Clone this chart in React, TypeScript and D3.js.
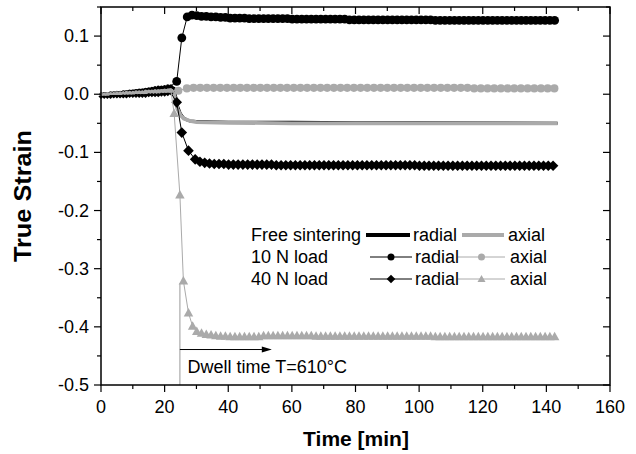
import React from "react";
import * as d3 from "d3";

// ---------- data ----------
const xTicks = [0, 20, 40, 60, 80, 100, 120, 140, 160];
const yTicks = [-0.5, -0.4, -0.3, -0.2, -0.1, 0.0, 0.1];

// pre-dwell samples, t = 0..22 min every 1 min
const preStart = 0;
const preStep = 1;
const radial10Pre = [0.000, 0.001, 0.001, 0.002, 0.002, 0.003, 0.003, 0.004, 0.004, 0.005, 0.005, 0.006, 0.007, 0.007, 0.008, 0.009, 0.010, 0.011, 0.012, 0.012, 0.013, 0.014, 0.014];
const radial40Pre = [-0.004, -0.004, -0.004, -0.004, -0.003, -0.003, -0.003, -0.003, -0.003, -0.002, -0.002, -0.002, -0.002, -0.002, -0.002, -0.001, -0.001, -0.001, -0.001, 0.000, 0.000, 0.001, 0.002];
const axial10Pre = [0.000, 0.000, 0.001, 0.001, 0.001, 0.002, 0.002, 0.002, 0.003, 0.003, 0.003, 0.004, 0.004, 0.004, 0.005, 0.005, 0.005, 0.006, 0.006, 0.006, 0.007, 0.007, 0.007];
const axial40Pre = [0.000, 0.000, 0.000, 0.001, 0.001, 0.001, 0.001, 0.002, 0.002, 0.002, 0.002, 0.003, 0.003, 0.003, 0.003, 0.004, 0.004, 0.004, 0.004, 0.005, 0.005, 0.005, 0.005];

// transition points [t, strain]
const radial10Trans = [[23.8, 0.022], [25.4, 0.097], [27.1, 0.133], [28.6, 0.136]];
const radial40Trans = [[23.8, -0.014], [25.4, -0.066], [27.5, -0.097], [29.6, -0.112]];
const axial10Trans = [[24.3, 0.006]];
const axial40Trans = [[23.0, -0.033], [24.8, -0.173], [25.9, -0.321], [27.5, -0.376], [28.8, -0.399], [30.1, -0.408]];

// dwell samples
const radial10Start = 30.1;
const radial10Step = 1.5;
const radial10Dwell = [
  0.135, 0.134, 0.134, 0.133, 0.133, 0.132, 0.132, 0.131, 0.131, 0.131,
  0.131, 0.130, 0.130, 0.130, 0.130, 0.130, 0.130, 0.130, 0.130, 0.130,
  0.129, 0.129, 0.129, 0.129, 0.129, 0.129, 0.129, 0.129, 0.129, 0.129,
  0.129, 0.129, 0.128, 0.128, 0.128, 0.128, 0.128, 0.128, 0.128, 0.128,
  0.128, 0.128, 0.128, 0.128, 0.128, 0.128, 0.128, 0.128, 0.128, 0.128,
  0.127, 0.127, 0.127, 0.127, 0.127, 0.127, 0.127, 0.127, 0.127, 0.127,
  0.127, 0.127, 0.127, 0.127, 0.127, 0.127, 0.127, 0.127, 0.127, 0.127,
  0.127, 0.127, 0.127, 0.127, 0.127, 0.127,
];
const radial40Start = 31.1;
const radial40Step = 1.5;
const radial40Dwell = [
  -0.116, -0.118, -0.119, -0.120, -0.120, -0.120, -0.121, -0.121, -0.121, -0.121,
  -0.121, -0.121, -0.121, -0.121, -0.121, -0.121, -0.122, -0.122, -0.122, -0.122,
  -0.122, -0.122, -0.122, -0.122, -0.122, -0.122, -0.122, -0.122, -0.122, -0.122,
  -0.122, -0.122, -0.122, -0.122, -0.122, -0.122, -0.122, -0.122, -0.122, -0.122,
  -0.122, -0.122, -0.122, -0.122, -0.122, -0.122, -0.123, -0.123, -0.123, -0.123,
  -0.123, -0.123, -0.123, -0.123, -0.123, -0.123, -0.123, -0.123, -0.123, -0.123,
  -0.123, -0.123, -0.123, -0.123, -0.123, -0.123, -0.123, -0.123, -0.123, -0.123,
  -0.123, -0.123, -0.123, -0.123, -0.123,
];
const axial10Start = 27.0;
const axial10Step = 2.1;
const axial10Dwell = [
  0.010, 0.011, 0.011, 0.011, 0.011, 0.011, 0.011, 0.011, 0.011, 0.011,
  0.011, 0.011, 0.011, 0.011, 0.011, 0.011, 0.011, 0.011, 0.011, 0.011,
  0.011, 0.011, 0.011, 0.011, 0.011, 0.011, 0.011, 0.011, 0.011, 0.011,
  0.011, 0.011, 0.011, 0.011, 0.011, 0.011, 0.011, 0.011, 0.011, 0.011,
  0.011, 0.011, 0.011, 0.010, 0.010, 0.010, 0.010, 0.010, 0.010, 0.010,
  0.010, 0.010, 0.010, 0.010, 0.010, 0.010,
];
const axial40Start = 31.6;
const axial40Step = 1.5;
const axial40Dwell = [
  -0.411, -0.413, -0.414, -0.415, -0.416, -0.416, -0.417, -0.417, -0.417, -0.417,
  -0.417, -0.417, -0.417, -0.415, -0.415, -0.415, -0.415, -0.415, -0.415, -0.415,
  -0.415, -0.415, -0.415, -0.415, -0.416, -0.416, -0.416, -0.416, -0.416, -0.416,
  -0.416, -0.416, -0.416, -0.416, -0.416, -0.416, -0.416, -0.416, -0.416, -0.416,
  -0.416, -0.416, -0.416, -0.416, -0.416, -0.416, -0.416, -0.416, -0.416, -0.417,
  -0.417, -0.417, -0.417, -0.417, -0.417, -0.417, -0.417, -0.417, -0.417, -0.417,
  -0.417, -0.417, -0.417, -0.417, -0.417, -0.417, -0.417, -0.417, -0.417, -0.417,
  -0.417, -0.417, -0.417, -0.417, -0.417,
];

// free sintering curves [t, strain]
const freeRadial = [[0, 0.000], [5, 0.002], [10, 0.005], [15, 0.008], [20, 0.011], [22, 0.013], [23, 0.010], [24, -0.020], [25, -0.034], [26, -0.041], [27, -0.044], [28, -0.046], [30, -0.047], [40, -0.048], [60, -0.048], [80, -0.049], [100, -0.049], [143.5, -0.050]];
const freeAxial = [[0, 0.000], [10, 0.002], [20, 0.005], [22, 0.006], [23, 0.000], [24, -0.025], [25, -0.036], [26, -0.042], [28, -0.046], [30, -0.048], [40, -0.049], [60, -0.050], [100, -0.050], [143.5, -0.050]];

// annotation
const dwellStart = 24.8;
const dwellArrowEnd = 53.7;
const dwellArrowY = -0.439;
const dwellLineTop = -0.325;

// ---------- layout ----------
const W = 636, H = 454;
const L = 101, R = 610, T = 7, B = 385;
const BLACK = "#000";
const GRAY = "#aaaaaa";
const FONT = "Liberation Sans, Arial, sans-serif";

const x = d3.scaleLinear().domain([0, 160]).range([L, R]);
const y = d3.scaleLinear().domain([-0.5, 0.15]).range([B, T]);

type Pt = [number, number];
const build = (pre: number[], trans: number[][], start: number, step: number, dwell: number[]) => {
  const p: Pt[] = pre.map((v, i) => [preStart + i * preStep, v]);
  const t: Pt[] = trans.map((d) => [d[0], d[1]]);
  const w: Pt[] = dwell.map((v, i) => [start + i * step, v]);
  return { pre: p, main: [...t, ...w], all: [...p, ...t, ...w] };
};

const series = [
  { d: build(radial10Pre, radial10Trans, radial10Start, radial10Step, radial10Dwell), color: BLACK, sym: "circle", s: 8.8 },
  { d: build(axial10Pre, axial10Trans, axial10Start, axial10Step, axial10Dwell), color: GRAY, sym: "circle", s: 8.2 },
  { d: build(radial40Pre, radial40Trans, radial40Start, radial40Step, radial40Dwell), color: BLACK, sym: "diamond", s: 9 },
  { d: build(axial40Pre, axial40Trans, axial40Start, axial40Step, axial40Dwell), color: GRAY, sym: "triangle", s: 8.5 },
];

const line = d3.line<Pt>().x((d) => x(d[0])).y((d) => y(d[1]));
const fmt = (v: number) => v.toFixed(1);

function Marker({ sym, cx, cy, s, color }: { sym: string; cx: number; cy: number; s: number; color: string }) {
  if (sym === "circle") return <circle cx={cx} cy={cy} r={s / 2} fill={color} />;
  if (sym === "diamond") {
    const h = s / 2 + 0.8;
    return <path d={`M${cx},${cy - h}L${cx + h},${cy}L${cx},${cy + h}L${cx - h},${cy}Z`} fill={color} />;
  }
  const hw = s / 2 + 0.5;
  return (
    <path d={`M${cx},${cy - s * 0.58}L${cx + hw},${cy + s * 0.42}L${cx - hw},${cy + s * 0.42}Z`} fill={color} />
  );
}

export default function App() {
  const xMinor = d3.range(0, 161, 10);
  const yMinor = d3.range(-0.5, 0.151, 0.05).map((v) => Math.round(v * 1000) / 1000);
  const isMajorX = (v: number) => v % 20 === 0;
  const isMajorY = (v: number) => Math.abs(Math.round(v * 10) - v * 10) < 1e-6;

  const legendRows = [
    { label: "Free sintering", cy: 235, kind: "free" },
    { label: "10 N load", cy: 257, kind: "circle" },
    { label: "40 N load", cy: 279, kind: "diamond" },
  ];

  return (
    <div style={{ position: "absolute", left: 0, top: 0 }}>
      <svg width={W} height={H} style={{ display: "block", background: "#fff" }} fontFamily={FONT}>
        <rect x={0} y={0} width={W} height={H} fill="#fff" />

        {/* free sintering thick lines */}
        <path d={line(freeRadial as Pt[]) || ""} fill="none" stroke={BLACK} strokeWidth={3} />
        <path d={line(freeAxial as Pt[]) || ""} fill="none" stroke={GRAY} strokeWidth={3.8} />

        {/* annotation vertical line */}
        <line x1={x(dwellStart)} x2={x(dwellStart)} y1={y(dwellLineTop)} y2={y(-0.5)} stroke={GRAY} strokeWidth={1.2} />

        {/* marker series */}
        {series.map((s, i) => (
          <g key={i}>
            <path d={line(s.d.all) || ""} fill="none" stroke={s.color} strokeWidth={1} />
            {s.d.pre.map((p, j) => (
              <Marker key={"p" + j} sym={s.sym} cx={x(p[0])} cy={y(p[1])} s={3.5} color={s.color} />
            ))}
            {s.d.main.map((p, j) => (
              <Marker key={"m" + j} sym={s.sym} cx={x(p[0])} cy={y(p[1])} s={s.s} color={s.color} />
            ))}
          </g>
        ))}

        {/* dwell arrow */}
        <line x1={x(dwellStart)} x2={x(dwellArrowEnd) - 8} y1={y(dwellArrowY)} y2={y(dwellArrowY)} stroke={BLACK} strokeWidth={1} />
        <path
          d={`M${x(dwellArrowEnd)},${y(dwellArrowY)}L${x(dwellArrowEnd) - 10},${y(dwellArrowY) - 3}L${x(dwellArrowEnd) - 10},${y(dwellArrowY) + 3}Z`}
          fill={BLACK}
        />
        <text x={x(27.2)} y={373} fontSize={18} fill={BLACK}>
          Dwell time T=610°C
        </text>

        {/* legend */}
        {legendRows.map((r, i) => (
          <g key={i}>
            <text x={251} y={r.cy + 6} fontSize={18} fill={BLACK}>
              {r.label}
            </text>
            {r.kind === "free" ? (
              <>
                <line x1={366} x2={410} y1={r.cy} y2={r.cy} stroke={BLACK} strokeWidth={3.8} />
                <line x1={462} x2={504} y1={r.cy} y2={r.cy} stroke={GRAY} strokeWidth={3.8} />
              </>
            ) : (
              <>
                <line x1={370} x2={412} y1={r.cy} y2={r.cy} stroke={BLACK} strokeWidth={1} />
                <Marker sym={r.kind} cx={391} cy={r.cy} s={7} color={BLACK} />
                <line x1={458} x2={505} y1={r.cy} y2={r.cy} stroke={GRAY} strokeWidth={1} />
                <Marker sym={r.kind === "circle" ? "circle" : "triangle"} cx={481.5} cy={r.cy} s={7} color={GRAY} />
              </>
            )}
            <text x={r.kind === "free" ? 413 : 415} y={r.cy + 6} fontSize={18} fill={BLACK}>
              radial
            </text>
            <text x={r.kind === "free" ? 508 : 510} y={r.cy + 6} fontSize={18} fill={BLACK}>
              axial
            </text>
          </g>
        ))}

        {/* frame */}
        <rect x={L} y={T} width={R - L} height={B - T} fill="none" stroke={BLACK} strokeWidth={1.5} />

        {/* x ticks */}
        {xMinor.map((v) => {
          const len = isMajorX(v) ? 7 : 4;
          return (
            <g key={"x" + v}>
              <line x1={x(v)} x2={x(v)} y1={B} y2={B + len} stroke={BLACK} strokeWidth={1.2} />
              <line x1={x(v)} x2={x(v)} y1={T} y2={T + len} stroke={BLACK} strokeWidth={1.2} />
            </g>
          );
        })}
        {xTicks.map((v) => (
          <text key={"xl" + v} x={x(v)} y={413} fontSize={18} textAnchor="middle" fill={BLACK}>
            {v}
          </text>
        ))}

        {/* y ticks */}
        {yMinor.map((v) => {
          const len = isMajorY(v) ? 7 : 4;
          return (
            <g key={"y" + v}>
              <line x1={L - len} x2={L} y1={y(v)} y2={y(v)} stroke={BLACK} strokeWidth={1.2} />
              <line x1={R - len} x2={R} y1={y(v)} y2={y(v)} stroke={BLACK} strokeWidth={1.2} />
            </g>
          );
        })}
        {yTicks.map((v) => (
          <text key={"yl" + v} x={89} y={y(v) + 6} fontSize={18} textAnchor="end" fill={BLACK}>
            {fmt(v)}
          </text>
        ))}

        {/* axis titles */}
        <text x={356} y={446} fontSize={21} fontWeight="bold" textAnchor="middle" fill={BLACK}>
          Time [min]
        </text>
        <text
          transform={`translate(31,196) rotate(-90)`}
          fontSize={23}
          fontWeight="bold"
          textAnchor="middle"
          textLength={132}
          lengthAdjust="spacingAndGlyphs"
          fill={BLACK}
        >
          True Strain
        </text>
      </svg>
    </div>
  );
}
